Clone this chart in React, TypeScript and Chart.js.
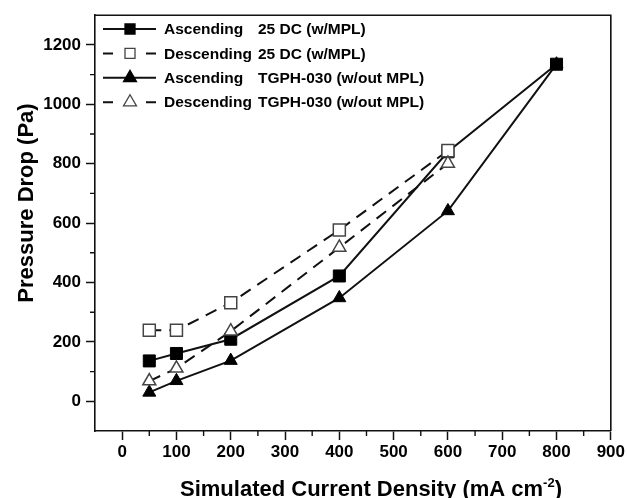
import React, { useEffect, useRef } from 'react';
import { Chart, registerables } from 'chart.js';

Chart.register(...registerables);

const FONT = '"Liberation Sans", Arial, Helvetica, sans-serif';

// ---- data ----
const xAscending = [50, 100, 200, 400, 600, 800];
const xDescending = [50, 100, 200, 400, 600];
const asc25DC = [136, 161, 209, 422, 840, 1135];
const desc25DC = [239, 239, 332, 577, 844];
const ascTGPH = [30, 69, 137, 348, 641, 1135];
const descTGPH = [68, 111, 236, 518, 801];

const seriesLabels = [
  'Ascending 25 DC (w/MPL)',
  'Descending 25 DC (w/MPL)',
  'Ascending TGPH-030 (w/out MPL)',
  'Descending TGPH-030 (w/out MPL)',
];

const xTicks = [0, 100, 200, 300, 400, 500, 600, 700, 800, 900];
const yTicks = [0, 200, 400, 600, 800, 1000, 1200];
const xMinorTicks = [50, 150, 250, 350, 450, 550, 650, 750, 850];
const yMinorTicks = [100, 300, 500, 700, 900, 1100];

const xTitleMain = 'Simulated Current Density (mA cm';
const xTitleSup = '-2';
const xTitleEnd = ')';
const yTitle = 'Pressure Drop (Pa)';

const toPoints = (xs: number[], ys: number[]) => ys.map((y, i) => ({ x: xs[i], y }));

const framePlugin = {
  id: 'frameAndExtras',
  afterDraw(chart: any) {
    const { ctx, chartArea } = chart;
    const xs = chart.scales.x;
    const ys = chart.scales.y;
    ctx.save();
    ctx.strokeStyle = '#111';
    ctx.lineWidth = 1.6;
    // top & right frame
    ctx.beginPath();
    ctx.moveTo(chartArea.left, chartArea.top);
    ctx.lineTo(chartArea.right, chartArea.top);
    ctx.lineTo(chartArea.right, chartArea.bottom);
    ctx.stroke();
    // minor ticks
    ctx.lineWidth = 1.4;
    ctx.beginPath();
    xMinorTicks.forEach((v) => {
      const px = xs.getPixelForValue(v);
      ctx.moveTo(px, chartArea.bottom);
      ctx.lineTo(px, chartArea.bottom + 5);
    });
    yMinorTicks.forEach((v) => {
      const py = ys.getPixelForValue(v);
      ctx.moveTo(chartArea.left, py);
      ctx.lineTo(chartArea.left - 5, py);
    });
    ctx.stroke();

    // axis titles
    ctx.fillStyle = '#000';
    ctx.font = `bold 22px ${FONT}`;
    const supFont = `bold 13px ${FONT}`;
    const wMain = ctx.measureText(xTitleMain).width;
    const wEnd = ctx.measureText(xTitleEnd).width;
    ctx.font = supFont;
    const wSup = ctx.measureText(xTitleSup).width;
    const total = wMain + wSup + wEnd;
    let tx = 371 - total / 2;
    const baseY = 496;
    ctx.textAlign = 'left';
    ctx.textBaseline = 'alphabetic';
    ctx.font = `bold 22px ${FONT}`;
    ctx.fillText(xTitleMain, tx, baseY);
    tx += wMain;
    ctx.font = supFont;
    ctx.fillText(xTitleSup, tx, baseY - 9);
    tx += wSup;
    ctx.font = `bold 22px ${FONT}`;
    ctx.fillText(xTitleEnd, tx, baseY);

    ctx.save();
    ctx.translate(32.5, 203);
    ctx.rotate(-Math.PI / 2);
    ctx.textAlign = 'center';
    ctx.fillText(yTitle, 0, 0);
    ctx.restore();

    // legend
    chart.data.datasets.forEach((ds: any, i: number) => {
      const y = 29 + i * 24.4;
      ctx.strokeStyle = '#111';
      ctx.lineWidth = 2;
      ctx.beginPath();
      if (ds.borderDash && ds.borderDash.length) {
        ctx.moveTo(103, y);
        ctx.lineTo(113, y);
        ctx.moveTo(146, y);
        ctx.lineTo(156, y);
      } else {
        ctx.moveTo(103, y);
        ctx.lineTo(156, y);
      }
      ctx.stroke();
      const cx = 130;
      ctx.beginPath();
      if (ds.pointStyle === 'rect') {
        ctx.rect(cx - 5, y - 5, 10, 10);
      } else {
        const r = 7.5;
        ctx.moveTo(cx, y - r);
        ctx.lineTo(cx + r * 0.866, y + r * 0.5);
        ctx.lineTo(cx - r * 0.866, y + r * 0.5);
        ctx.closePath();
      }
      ctx.fillStyle = ds.pointBackgroundColor;
      ctx.fill();
      ctx.strokeStyle = ds.pointBorderColor;
      ctx.lineWidth = 1.3;
      ctx.stroke();

      ctx.fillStyle = '#000';
      ctx.font = `bold 15.5px ${FONT}`;
      ctx.textAlign = 'left';
      ctx.textBaseline = 'middle';
      const label: string = ds.label;
      const sp = label.indexOf(' ');
      ctx.fillText(label.slice(0, sp), 164, y + 1);
      ctx.fillText(label.slice(sp + 1), 258, y + 1);
    });
    ctx.restore();
  },
};

export default function App() {
  const ref = useRef<HTMLCanvasElement | null>(null);
  useEffect(() => {
    if (!ref.current) return;
    const filled = (label: string, xs: number[], ys: number[], style: string, radius: number, order: number) => ({
      label,
      data: toPoints(xs, ys),
      borderColor: '#111',
      borderWidth: 2,
      pointStyle: style,
      pointRadius: radius,
      pointBackgroundColor: '#000',
      pointBorderColor: '#000',
      pointBorderWidth: 1,
      tension: 0,
      order,
    });
    const open = (label: string, xs: number[], ys: number[], style: string, radius: number, order: number) => ({
      label,
      data: toPoints(xs, ys),
      borderColor: '#111',
      borderWidth: 2,
      borderDash: [12, 8],
      pointStyle: style,
      pointRadius: radius,
      pointBackgroundColor: '#fff',
      pointBorderColor: '#444',
      pointBorderWidth: 1.5,
      tension: 0,
      order,
    });
    const tickFont = { family: FONT, size: 17, weight: 'bold' };
    const chart = new Chart(ref.current, {
      type: 'line',
      data: {
        datasets: [
          filled(seriesLabels[0], xAscending, asc25DC, 'rect', 8.5, 2),
          open(seriesLabels[1], xDescending, desc25DC, 'rect', 8.5, 1),
          filled(seriesLabels[2], xAscending, ascTGPH, 'triangle', 7.5, 3),
          open(seriesLabels[3], xDescending, descTGPH, 'triangle', 7.5, 0),
        ] as any,
      },
      options: {
        animation: false,
        responsive: false,
        maintainAspectRatio: false,
        layout: { padding: { top: 14, right: 14, left: 0, bottom: 0 } },
        plugins: { legend: { display: false }, tooltip: { enabled: false } },
        scales: {
          x: {
            type: 'linear',
            min: -50,
            max: 900,
            afterBuildTicks: (s: any) => {
              s.ticks = xTicks.map((v) => ({ value: v }));
            },
            afterFit: (s: any) => {
              s.height = 67;
            },
            grid: {
              display: true,
              drawOnChartArea: false,
              drawTicks: true,
              tickLength: 9,
              tickColor: '#111',
              tickWidth: 1.5,
            },
            border: { display: true, color: '#111', width: 1.6 },
            ticks: {
              color: '#000',
              font: tickFont,
              padding: 2,
              maxRotation: 0,
              callback: (v: any) => String(v),
            },
          },
          y: {
            type: 'linear',
            min: -100,
            max: 1300,
            afterBuildTicks: (s: any) => {
              s.ticks = yTicks.map((v) => ({ value: v }));
            },
            afterFit: (s: any) => {
              s.width = 95;
            },
            grid: {
              display: true,
              drawOnChartArea: false,
              drawTicks: true,
              tickLength: 9,
              tickColor: '#111',
              tickWidth: 1.5,
            },
            border: { display: true, color: '#111', width: 1.6 },
            ticks: {
              color: '#000',
              font: tickFont,
              padding: 5,
              callback: (v: any) => String(v),
            },
          },
        },
      } as any,
      plugins: [framePlugin],
    });
    return () => chart.destroy();
  }, []);
  return (
    <div style={{ position: 'fixed', left: 0, top: 0, width: 627, height: 498, background: '#fff' }}>
      <canvas ref={ref} width={627} height={498} style={{ display: 'block' }} />
    </div>
  );
}
